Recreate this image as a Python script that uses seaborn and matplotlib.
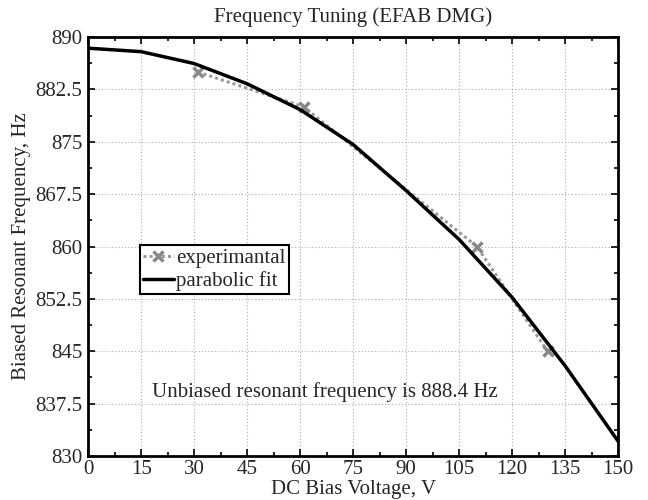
import matplotlib
matplotlib.use("Agg")
import matplotlib.pyplot as plt
import seaborn as sns
import pandas as pd

# measured points
volt_exp = [31, 61, 110, 130]
freq_exp = [885.0, 880.0, 860.0, 845.0]

# parabolic fit, every 15 V
volt_fit = [0, 15, 30, 45, 60, 75, 90, 105, 120, 135, 150]
freq_fit = [888.4, 887.9, 886.2, 883.3, 879.6, 874.6, 868.0, 861.0, 852.7, 842.9, 832.1]

x_ticks = [0, 15, 30, 45, 60, 75, 90, 105, 120, 135, 150]
y_ticks = [830, 837.5, 845, 852.5, 860, 867.5, 875, 882.5, 890]
y_tick_labels = ["830", "837.5", "845", "852.5", "860", "867.5", "875", "882.5", "890"]

note = "Unbiased resonant frequency is 888.4 Hz"

sns.set_style("ticks")
plt.rcParams['font.family'] = ['Liberation Serif', 'DejaVu Serif']

df_exp = pd.DataFrame({"V": volt_exp, "f": freq_exp})
df_fit = pd.DataFrame({"V": volt_fit, "f": freq_fit})

fig, ax = plt.subplots(figsize=(6.48, 5.0), dpi=100)
fig.subplots_adjust(left=0.136, right=0.954, top=0.926, bottom=0.088)

sns.lineplot(data=df_exp, x="V", y="f", ax=ax, color="#999999", linestyle=(0, (1, 1)),
             linewidth=2.2, marker="x", markersize=7, markeredgewidth=2.5,
             markeredgecolor="#888888", label="experimantal")
sns.lineplot(data=df_fit, x="V", y="f", ax=ax, color="black", linewidth=2.5,
             label="parabolic fit")

ax.set_xlim(0, 150)
ax.set_ylim(830, 890)
ax.set_xticks(x_ticks)
ax.set_xticklabels([str(v) for v in x_ticks])
ax.set_yticks(y_ticks)
ax.set_yticklabels(y_tick_labels)
ax.set_xticks([v + 7.5 for v in x_ticks[:-1]], minor=True)
ax.set_yticks([v + 3.75 for v in y_ticks[:-1]], minor=True)

ax.grid(True, which="major", linestyle=(0, (1, 2)), color="#aaaaaa", linewidth=0.8)
ax.tick_params(which="both", direction="in", top=True, right=True, labelsize=15,
               width=1.2, color="black")
ax.tick_params(which="major", length=5)
ax.tick_params(axis="x", which="major", pad=3)
ax.tick_params(axis="y", which="major", pad=4)
ax.tick_params(which="minor", length=3)
for s in ax.spines.values():
    s.set_linewidth(2)
    s.set_color("black")

ax.set_title("Frequency Tuning (EFAB DMG)", fontsize=15, pad=11)
ax.set_xlabel("DC Bias Voltage, V", fontsize=15)
ax.set_ylabel("Biased Resonant Frequency, Hz", fontsize=15)
ax.xaxis.set_label_coords(0.5, -0.058)
ax.yaxis.set_label_coords(-0.108, 0.5)

ax.text(18, 839.1, note, fontsize=15, va="center", ha="left")

leg = ax.legend(loc="upper left", bbox_to_anchor=(0.097, 0.503), borderaxespad=0,
                fontsize=15, fancybox=False, framealpha=1, edgecolor="black",
                handlelength=1.5, handletextpad=0.1, borderpad=0.15, labelspacing=0.15)
leg.get_frame().set_linewidth(1.5)

plt.savefig("out.png", dpi=100)
